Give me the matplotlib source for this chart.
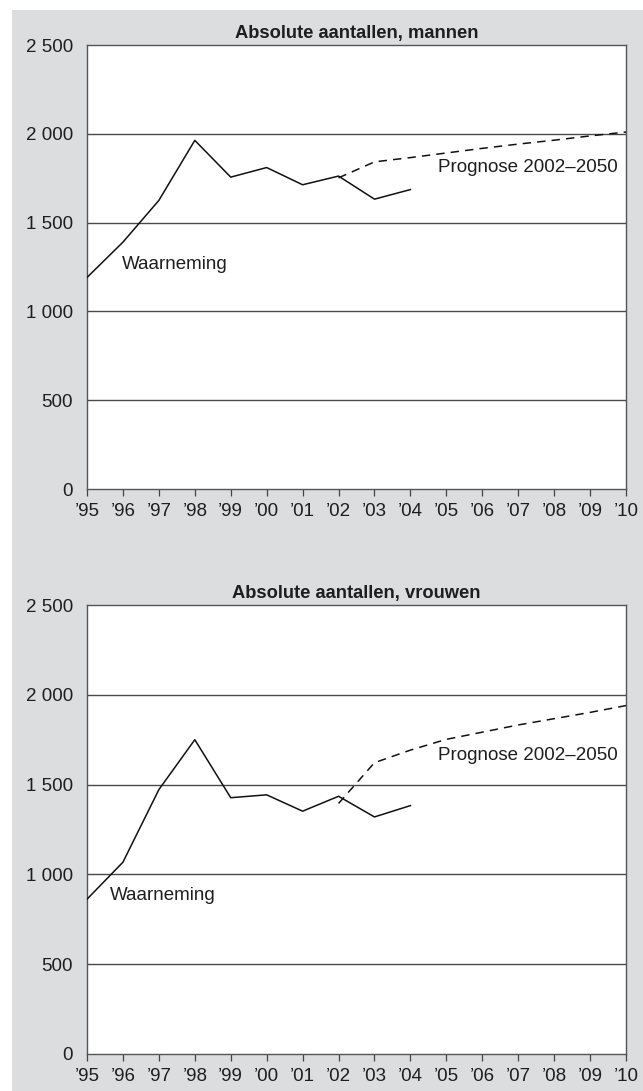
import matplotlib
matplotlib.use('Agg')
import matplotlib.pyplot as plt
from matplotlib.patches import Rectangle

# waarneming en prognose, absolute aantallen
jaren_obs = [1995, 1996, 1997, 1998, 1999, 2000, 2001, 2002, 2003, 2004]
mannen_obs = [1191, 1390, 1625, 1963, 1756, 1810, 1713, 1762, 1632, 1686]
vrouwen_obs = [862, 1068, 1472, 1750, 1427, 1443, 1352, 1435, 1320, 1383]

jaren_prog = [2002, 2003, 2004, 2005, 2006, 2007, 2008, 2009, 2010]
mannen_prog = [1752, 1842, 1866, 1892, 1918, 1942, 1964, 1988, 2010]
vrouwen_prog = [1395, 1622, 1692, 1752, 1792, 1832, 1867, 1902, 1940]

jaar_ticks = list(range(1995, 2011))
jaar_labels = ['\u2019%02d' % (j % 100) for j in jaar_ticks]
y_ticks = [0, 500, 1000, 1500, 2000, 2500]
y_labels = ['0', '500', '1 000', '1 500', '2 000', '2 500']

titels = ['Absolute aantallen, mannen', 'Absolute aantallen, vrouwen']
waarneming_pos = [(1995.97, 1265), (1995.64, 880)]
prognose_pos = [(2004.78, 1810), (2004.78, 1664)]

plt.rcParams['font.family'] = ['Liberation Sans', 'DejaVu Sans']
tekst = '#1e1e1e'

W, H = 643, 1091
fig = plt.figure(figsize=(W / 100, H / 100), dpi=100)
# grijze achtergrond achter beide panelen
fig.patches.append(Rectangle((12 / W, 0), 1, (H - 10) / H, transform=fig.transFigure,
                             facecolor='#dcdddf', edgecolor='none', zorder=-10))

panelen = [(45, 489), (605, 1054)]  # top, bottom in pixels
data = [(mannen_obs, mannen_prog), (vrouwen_obs, vrouwen_prog)]

for i, (top, bot) in enumerate(panelen):
    ax = fig.add_axes([87 / W, 1 - bot / H, (626 - 87) / W, (bot - top) / H])
    ax.set_zorder(1)
    ax.set_facecolor('white')
    obs, prog = data[i]
    ax.plot(jaren_obs, obs, color='#111111', lw=1.1, zorder=3)
    ax.plot(jaren_prog, prog, color='#111111', lw=1.1, dashes=(5.5, 4), zorder=3)
    ax.set_xlim(1995, 2010)
    ax.set_ylim(0, 2500)
    ax.set_yticks(y_ticks)
    ax.set_yticklabels(y_labels)
    ax.set_xticks(jaar_ticks)
    ax.set_xticklabels(jaar_labels)
    ax.tick_params(axis='y', length=0, pad=10, labelsize=13.5, labelcolor=tekst)
    ax.tick_params(axis='x', length=5, width=0.9, color='#444444', pad=5,
                   labelsize=13.5, labelcolor=tekst, direction='out')
    for g in y_ticks[1:-1]:
        ax.axhline(g, color='#4a4a4a', lw=1.0, zorder=1)
    for s in ax.spines.values():
        s.set_color('#555555')
        s.set_linewidth(1.0)
    ax.set_title(titels[i], fontsize=13.2, fontweight='bold', color=tekst, pad=5)
    wx, wy = waarneming_pos[i]
    ax.text(wx, wy, 'Waarneming', fontsize=13.5, color=tekst, ha='left', va='center')
    px, py = prognose_pos[i]
    ax.text(px, py, 'Prognose 2002\u20132050', fontsize=13.5, color=tekst, ha='left', va='center')

fig.savefig('out.png', dpi=100)
